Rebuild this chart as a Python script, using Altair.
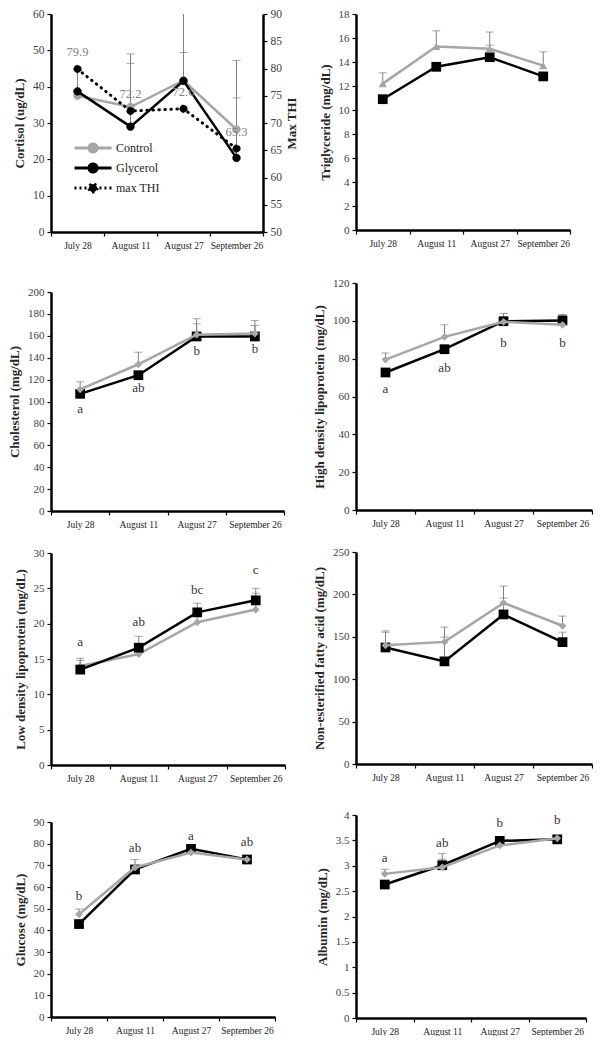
import altair as alt
import pandas as pd

FONT = "Liberation Serif"
GRAY = "#a6a6a6"
ERRC = "#7f7f7f"
LABC = "#404040"

dates = ["July 28", "August 11", "August 27", "September 26"]

# Cortisol (ug/dL) + max THI
cort_control = [37.5, 34.4, 41.7, 28.2]
cort_glycerol = [38.7, 29.0, 41.6, 20.4]
cort_control_se = [7.6, 14.6, 7.7, 19.0]
cort_glycerol_se = [0.0, 17.4, 22.0, 16.5]
max_thi = [79.9, 72.2, 72.6, 65.3]

# Triglyceride (mg/dL)
tg_control = [12.2, 15.3, 15.1, 13.7]
tg_glycerol = [10.9, 13.6, 14.4, 12.8]
tg_control_se = [0.9, 1.3, 1.4, 1.15]
tg_glycerol_se = [0.3, 0.3, 1.0, 0.3]

# Cholesterol (mg/dL)
chol_control = [111, 134, 161, 162]
chol_glycerol = [107, 124, 159.4, 159.4]
chol_control_se = [7, 11, 14.6, 12]
chol_glycerol_se = [3, 3, 11.6, 10]
chol_letters = ["a", "ab", "b", "b"]
chol_letter_y = [93, 112, 146.5, 148]

# HDL (mg/dL)
hdl_control = [79.5, 91.5, 99.5, 97.9]
hdl_glycerol = [72.7, 85, 99.8, 100.2]
hdl_control_se = [3.5, 6.4, 4.4, 5.3]
hdl_glycerol_se = [1.5, 1.5, 2.0, 3.0]
hdl_letters = ["a", "ab", "b", "b"]
hdl_letter_y = [64.2, 75.3, 88.5, 88.5]

# LDL (mg/dL)
ldl_control = [14.0, 15.7, 20.2, 22.0]
ldl_glycerol = [13.5, 16.6, 21.6, 23.3]
ldl_control_se = [0.8, 0.6, 0.8, 2.3]
ldl_glycerol_se = [1.6, 1.6, 1.3, 1.7]
ldl_letters = ["a", "ab", "bc", "c"]
ldl_letter_y = [17.4, 20.2, 24.75, 27.6]

# NEFA (mg/dL)
nefa_control = [140, 144, 190, 163]
nefa_glycerol = [137.4, 121, 176.4, 143.7]
nefa_control_se = [17, 17.4, 19.8, 11.4]
nefa_glycerol_se = [18, 28.6, 19.3, 11.8]

# Glucose (mg/dL)
glu_control = [47.4, 69.0, 75.9, 72.7]
glu_glycerol = [42.9, 68.1, 77.6, 72.7]
glu_control_se = [2.4, 3.7, 1.0, 1.0]
glu_glycerol_se = [1.0, 1.0, 2.0, 1.0]
glu_letters = ["b", "ab", "a", "ab"]
glu_letter_y = [56, 77.8, 83.6, 80.8]

# Albumin (mg/dL)
alb_control = [2.84, 2.97, 3.40, 3.54]
alb_glycerol = [2.63, 3.01, 3.49, 3.52]
alb_control_se = [0.09, 0.27, 0.03, 0.03]
alb_glycerol_se = [0.03, 0.12, 0.03, 0.03]
alb_letters = ["a", "ab", "b", "b"]
alb_letter_y = [3.16, 3.44, 3.84, 3.9]


def make_df(ctrl, gly, ctrl_se, gly_se):
    rows = []
    for s, vals, ses in (("Control", ctrl, ctrl_se), ("Glycerol", gly, gly_se)):
        for d, v, e in zip(dates, vals, ses):
            rows.append({"date": d, "series": s, "value": v, "upper": v + e})
    return pd.DataFrame(rows)


def x_enc():
    return alt.X(
        "date:N",
        sort=dates,
        scale=alt.Scale(type="band", domain=dates, paddingInner=0, paddingOuter=0),
        axis=alt.Axis(title=None, labelAngle=0, tickBand="extent", labelFontSize=9.5,
                      labelColor="#222222", labelPadding=4, tickSize=4, domainWidth=2.5),
    )


def tick_values(lo, hi, step):
    n = int(round((hi - lo) / step))
    return [round(lo + i * step, 4) for i in range(n + 1)]


def y_enc(field, lo, hi, step, title, label_size=11):
    vals = tick_values(lo, hi, step)
    return alt.Y(
        field,
        scale=alt.Scale(domain=[lo, hi], nice=False, zero=False),
        axis=alt.Axis(title=title, values=vals, tickCount=len(vals), format="~f",
                      labelFontSize=label_size, labelOverlap=False),
    )


def panel(df, lo, hi, step, title, ctrl_shape, ctrl_size, w, h,
          letters=None, letter_y=None, gray_on_top=True):
    base = alt.Chart(df)
    y = y_enc("value:Q", lo, hi, step, title)
    err_rule = base.mark_rule(color=ERRC, strokeWidth=1).encode(
        x=x_enc(), y=y, y2="upper:Q", detail="series:N")
    err_cap = base.mark_tick(color=ERRC, orient="horizontal", size=8, thickness=1).encode(
        x=x_enc(), y="upper:Q")

    def series_layers(name, color, shape, size):
        d = base.transform_filter(alt.datum.series == name)
        ln = d.mark_line(color=color, strokeWidth=2.5).encode(x=x_enc(), y="value:Q")
        pt = d.mark_point(filled=True, opacity=1, color=color, shape=shape, size=size).encode(
            x=x_enc(), y="value:Q")
        return [ln, pt]

    gly_layers = series_layers("Glycerol", "black", "square", 95)
    ctl_layers = series_layers("Control", GRAY, ctrl_shape, ctrl_size)
    layers = [err_rule, err_cap]
    layers += (gly_layers + ctl_layers) if gray_on_top else (ctl_layers + gly_layers)
    if letters is not None:
        ldf = pd.DataFrame({"date": dates, "letter": letters, "ly": letter_y})
        txt = alt.Chart(ldf).mark_text(font=FONT, fontSize=13, color="#333333").encode(
            x=x_enc(), y="ly:Q", text="letter:N")
        layers.append(txt)
    return alt.layer(*layers).properties(width=w, height=h)


# ---------------- Cortisol panel with secondary axis ----------------
leg_domain = ["Control", "Glycerol", "max THI"]
leg_colors = [GRAY, "black", "black"]
leg_dash = [[1, 0], [1, 0], [2, 3]]
SYMBOL = "M-2.5,0H2.5M0.55,0A0.55,0.55,0,1,1,-0.55,0A0.55,0.55,0,1,1,0.55,0"

legend = alt.Legend(
    title=None, orient="none", legendX=33, legendY=125, padding=0, rowPadding=-4,
    symbolType=SYMBOL, symbolSize=220, symbolStrokeWidth=3, labelOffset=14,
    labelFont=FONT, labelFontSize=12, labelColor="#222222",
)
fill_enc = alt.Fill("series:N", scale=alt.Scale(domain=leg_domain, range=leg_colors), legend=legend)
stroke_enc = alt.Stroke("series:N", scale=alt.Scale(domain=leg_domain, range=leg_colors), legend=legend)
dash_enc = alt.StrokeDash("series:N", scale=alt.Scale(domain=leg_domain, range=leg_dash), legend=legend)

cdf = make_df(cort_control, cort_glycerol, cort_control_se, cort_glycerol_se)
cbase = alt.Chart(cdf)
cy = y_enc("value:Q", 0, 60, 10, "Cortisol (ug/dL)", 11.5)

c_err_rule = cbase.mark_rule(color=ERRC, strokeWidth=1, clip=True).encode(
    x=x_enc(), y=cy, y2="upper:Q", detail="series:N")
c_err_cap = cbase.mark_tick(color=ERRC, orient="horizontal", size=8, thickness=1, clip=True).encode(
    x=x_enc(), y="upper:Q")


def cort_series(name, color):
    d = cbase.transform_filter(alt.datum.series == name)
    ln = d.mark_line(strokeWidth=2.5, color=color).encode(x=x_enc(), y="value:Q")
    pt = d.mark_point(filled=True, opacity=1, shape="circle", size=55, strokeWidth=1).encode(
        x=x_enc(), y="value:Q", fill=fill_enc, stroke=stroke_enc, strokeDash=dash_enc)
    return [ln, pt]


left = alt.layer(c_err_rule, c_err_cap, *cort_series("Control", GRAY), *cort_series("Glycerol", "black"))

tdf = pd.DataFrame({"date": dates, "thi": max_thi, "series": ["max THI"] * 4,
                    "lbl": [f"{v:.1f}" for v in max_thi]})
tbase = alt.Chart(tdf)
thi_vals = tick_values(50, 90, 5)
ty = alt.Y("thi:Q", scale=alt.Scale(domain=[50, 90], nice=False, zero=False),
           axis=alt.Axis(title="Max THI", orient="right", values=thi_vals, tickCount=len(thi_vals),
                         format="~f", labelFontSize=11.5, titleAngle=270, titleBaseline="top",
                         titlePadding=4, labelOverlap=False))
t_line = tbase.mark_line(strokeWidth=3, strokeCap="round", color="black",
                         strokeDash=[0.5, 5.5]).encode(x=x_enc(), y=ty)
t_pt = tbase.mark_point(filled=True, opacity=1, shape="circle", size=55, strokeWidth=1).encode(
    x=x_enc(), y="thi:Q", fill=fill_enc, stroke=stroke_enc, strokeDash=dash_enc)
t_txt = tbase.mark_text(font=FONT, fontSize=12.5, color="#808080", dy=-17).encode(
    x=x_enc(), y="thi:Q", text="lbl:N")
right = alt.layer(t_line, t_pt, t_txt)

p1 = alt.layer(left, right).resolve_scale(y="independent").properties(width=212, height=218)

# ---------------- Other panels ----------------
p2 = panel(make_df(tg_control, tg_glycerol, tg_control_se, tg_glycerol_se),
           0, 18, 2, "Triglyceride (mg/dL)", "triangle-up", 70, 214, 216)
p3 = panel(make_df(chol_control, chol_glycerol, chol_control_se, chol_glycerol_se),
           0, 200, 20, "Cholesterol (mg/dL)", "diamond", 60, 233, 219,
           chol_letters, chol_letter_y)
p4 = panel(make_df(hdl_control, hdl_glycerol, hdl_control_se, hdl_glycerol_se),
           0, 120, 20, "High density lipoprotein (mg/dL)", "diamond", 60, 236, 227,
           hdl_letters, hdl_letter_y)
p5 = panel(make_df(ldl_control, ldl_glycerol, ldl_control_se, ldl_glycerol_se),
           0, 30, 5, "Low density lipoprotein (mg/dL)", "diamond", 60, 234, 212,
           ldl_letters, ldl_letter_y, gray_on_top=False)
p6 = panel(make_df(nefa_control, nefa_glycerol, nefa_control_se, nefa_glycerol_se),
           0, 250, 50, "Non-esterified fatty acid (mg/dL)", "diamond", 60, 236, 212)
p7 = panel(make_df(glu_control, glu_glycerol, glu_control_se, glu_glycerol_se),
           0, 90, 10, "Glucose (mg/dL)", "diamond", 60, 224, 195,
           glu_letters, glu_letter_y)
p8 = panel(make_df(alb_control, alb_glycerol, alb_control_se, alb_glycerol_se),
           0, 4, 0.5, "Albumin (mg/dL)", "diamond", 60, 230, 203,
           alb_letters, alb_letter_y)

col1 = alt.vconcat(alt.vconcat(p1, p3, spacing=36), alt.vconcat(p5, p7, spacing=33), spacing=18)
col2 = alt.vconcat(alt.vconcat(p2, p4, spacing=29), alt.vconcat(p6, p8, spacing=27), spacing=18)

chart = alt.hconcat(col1, col2, spacing=14).properties(
    padding={"left": 0, "top": 0, "right": 0, "bottom": 0}
).configure_axis(
    domainColor="black", domainWidth=2.5, tickColor="black", tickWidth=1.2, tickSize=4,
    labelFont=FONT, titleFont=FONT, labelColor=LABC, titleColor="#262626",
    titleFontSize=13, titleFontWeight="bold", grid=False, labelPadding=3, titlePadding=6,
).configure_view(stroke=None).configure_legend(labelFont=FONT)

chart.save("out.html", embed_options={"renderer": "svg", "actions": False})
